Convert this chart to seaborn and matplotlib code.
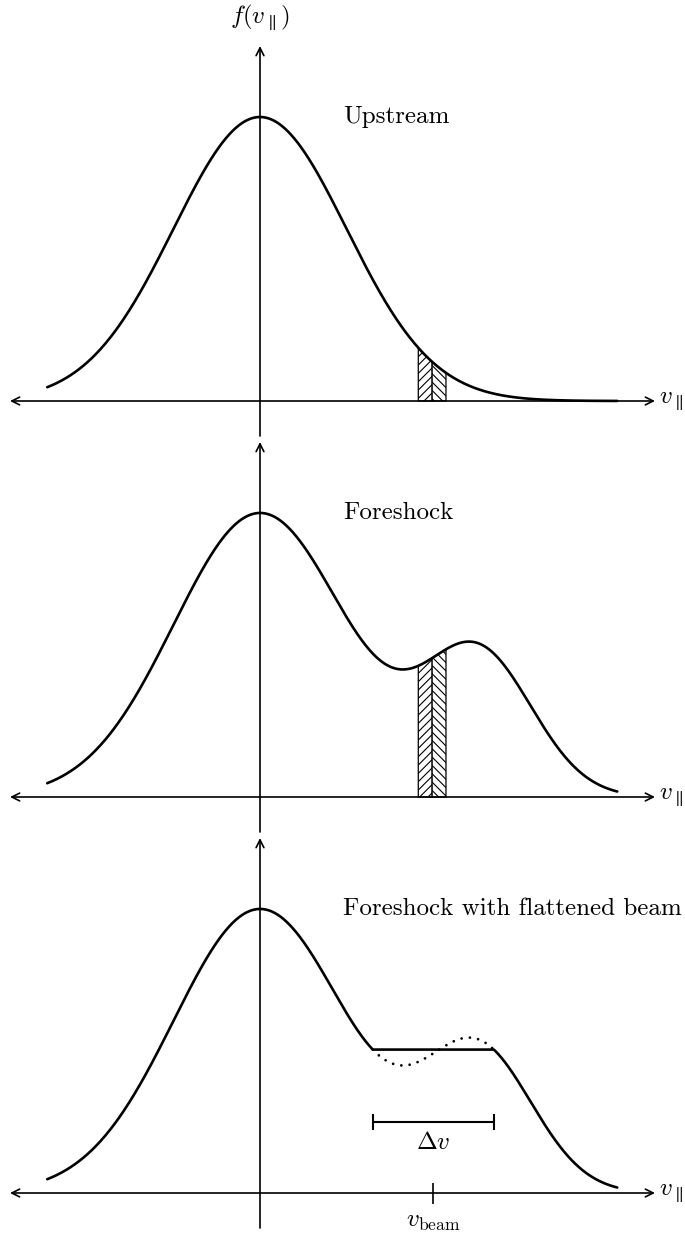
import numpy as np
import matplotlib
matplotlib.use("Agg")
import matplotlib.pyplot as plt
import seaborn as sns

# ---- model parameters (velocity in thermal units, f normalised to core peak) ----
PANEL_TITLES = ["Upstream", "Foreshock", "Foreshock with flattened beam"]
CORE_AMP = 1.0
CORE_SIGMA = 1.0
BEAM_AMP = 0.50
BEAM_CENTER = 2.52
BEAM_SIGMA = 0.63
FLAT_LEVEL = 0.505
V_RANGE = [-2.46, 4.13]
STRIP_EDGES = [1.83, 1.99, 2.15]
V_BEAM = 2.0

sns.set_theme(style="white")
plt.rcParams["font.family"] = ["cmr10", "DejaVu Serif"]
plt.rcParams["mathtext.fontset"] = "cm"
plt.rcParams["axes.formatter.use_mathtext"] = True
plt.rcParams["hatch.linewidth"] = 0.8
plt.rcParams["text.color"] = "black"

W, H = 685, 1233
PX_V = 86.5      # pixels per velocity unit
PX_F = 284.0     # pixels per unit of f
ORIGIN_X = 260
CURVE_LW = 1.9
AXIS_LW = 1.2
FS = 18

fig = plt.figure(figsize=(W / 100, H / 100), dpi=100)


def panel_axes(top_px, bottom_px, axis_px):
    ax = fig.add_axes([0, 1 - bottom_px / H, 1, (bottom_px - top_px) / H])
    ax.set_xlim(-ORIGIN_X / PX_V, (W - ORIGIN_X) / PX_V)
    ax.set_ylim(-(bottom_px - axis_px) / PX_F, (axis_px - top_px) / PX_F)
    ax.axis("off")
    return ax


def core(v):
    return CORE_AMP * np.exp(-v ** 2 / (2 * CORE_SIGMA ** 2))


def beam(v):
    return BEAM_AMP * np.exp(-(v - BEAM_CENTER) ** 2 / (2 * BEAM_SIGMA ** 2))


def draw_axes(ax):
    x0, x1 = ax.get_xlim()
    ax.annotate("", xy=(x0 + 10 / PX_V, 0), xytext=(x1 - 30 / PX_V, 0),
                arrowprops=dict(arrowstyle="<->", lw=AXIS_LW, color="black",
                                mutation_scale=14, shrinkA=0, shrinkB=0),
                annotation_clip=False)
    ax.annotate("", xy=(0, 355 / PX_F), xytext=(0, -35 / PX_F),
                arrowprops=dict(arrowstyle="->", lw=AXIS_LW, color="black",
                                mutation_scale=14, shrinkA=0, shrinkB=0),
                annotation_clip=False)
    ax.text(x1 - 26 / PX_V, 0, r"$v_\parallel$", fontsize=FS, ha="left",
            va="center", color="black")


def draw_strips(ax, f):
    hatches = ["////", "\\\\\\\\"]
    for a, b, hatch in zip(STRIP_EDGES[:-1], STRIP_EDGES[1:], hatches):
        vs = np.linspace(a, b, 40)
        ax.fill_between(vs, 0, f(vs), facecolor="white", edgecolor="black",
                        hatch=hatch, linewidth=0.9, zorder=2)


v = np.linspace(V_RANGE[0], V_RANGE[1], 800)

# ---- Upstream: a single Maxwellian ----
ax1 = panel_axes(0, 439, 401)
draw_axes(ax1)
draw_strips(ax1, core)
sns.lineplot(x=v, y=core(v), ax=ax1, color="black", lw=CURVE_LW, zorder=3)
ax1.text(0, 1.35, r"$f(v_\parallel)$", fontsize=FS, ha="center", va="center",
         color="black")
ax1.text(83 / PX_V, 1.0, PANEL_TITLES[0], fontsize=FS, ha="left",
         va="center", color="black")


# ---- Foreshock: core plus beam ----
def total(x):
    return core(x) + beam(x)


ax2 = panel_axes(439, 835, 797)
draw_axes(ax2)
draw_strips(ax2, total)
sns.lineplot(x=v, y=total(v), ax=ax2, color="black", lw=CURVE_LW, zorder=3)
ax2.text(83 / PX_V, 1.0, PANEL_TITLES[1], fontsize=FS, ha="left",
         va="center", color="black")

# ---- Foreshock with the beam flattened to a plateau ----
ft = total(v)
mask = v > 0.5
g = ft[mask] - FLAT_LEVEL
vm = v[mask]
idx = np.where(np.sign(g[:-1]) != np.sign(g[1:]))[0]


def crossing(i):
    return vm[i] - g[i] * (vm[i + 1] - vm[i]) / (g[i + 1] - g[i])


v_lo, v_hi = crossing(idx[0]), crossing(idx[-1])
inside = (v >= v_lo) & (v <= v_hi)
flat = np.where(inside, FLAT_LEVEL, ft)

ax3 = panel_axes(835, 1233, 1193)
draw_axes(ax3)
sns.lineplot(x=v, y=flat, ax=ax3, color="black", lw=CURVE_LW, zorder=3)
vd = np.linspace(v_lo, v_hi, 200)
ax3.plot(vd, total(vd), color="black", lw=2.0,
         linestyle=(0, (0.01, 3.0)), dash_capstyle="round", zorder=3)
ax3.text(83 / PX_V, 1.0, PANEL_TITLES[2], fontsize=FS, ha="left",
         va="center", color="black")

# width of the plateau
bar_y = 71 / PX_F
tick = 8 / PX_F
ax3.plot([v_lo, v_hi], [bar_y, bar_y], color="black", lw=1.5)
ax3.vlines([v_lo, v_hi], bar_y - tick, bar_y + tick, color="black", lw=1.5)
ax3.text((v_lo + v_hi) / 2, bar_y - 21 / PX_F, r"$\Delta v$", fontsize=FS,
         ha="center", va="center", color="black")

# beam velocity marker
ax3.vlines([V_BEAM], -11 / PX_F, 10 / PX_F, color="black", lw=AXIS_LW)
ax3.text(V_BEAM, -29 / PX_F, r"$v_{\rm beam}$", fontsize=FS, ha="center",
         va="center", color="black")

fig.savefig("out.png", dpi=100, facecolor="white")
